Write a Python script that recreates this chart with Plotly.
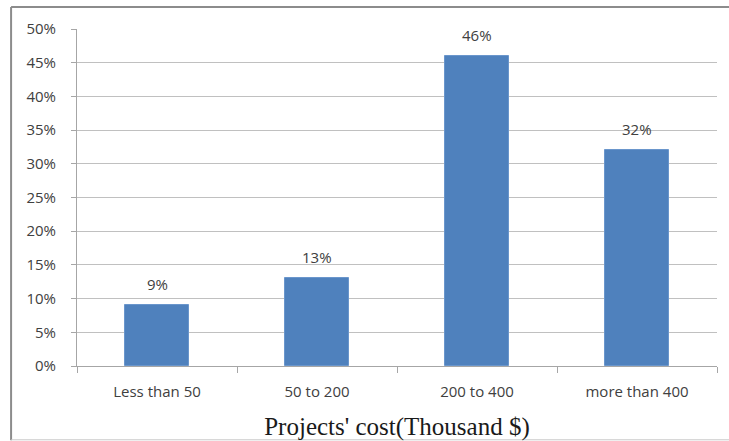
import plotly.graph_objects as go

# Share of projects by cost band
categories = ["Less than 50", "50 to 200", "200 to 400", "more than 400"]
shares = [9, 13, 46, 32]
y_ticks = [0, 5, 10, 15, 20, 25, 30, 35, 40, 45, 50]
y_tick_labels = [f"{v}%" for v in y_ticks]
boundaries = [-0.5, 0.5, 1.5, 2.5, 3.5]

label_font = dict(family="Open Sans", size=15, color="#404040")

fig = go.Figure(
    go.Bar(
        x=list(range(len(categories))),
        y=shares,
        width=0.4,
        marker=dict(color="#4F81BD", line=dict(color="#6A96CC", width=1)),
        hoverinfo="skip",
    )
)

# value labels above each bar
for i, v in enumerate(shares):
    fig.add_annotation(
        x=i, y=v, xref="x", yref="y",
        text=f"{v}%", showarrow=False,
        yanchor="middle", yshift=21,
        font=label_font,
    )

fig.update_layout(
    width=729,
    height=441,
    margin=dict(l=77, r=12, t=29, b=75),
    paper_bgcolor="white",
    plot_bgcolor="white",
    showlegend=False,
    bargap=0,
    shapes=[
        # frame around the whole chart
        dict(type="line", xref="paper", yref="paper",
             x0=-0.103, x1=1.03, y0=1.065, y1=1.065,
             line=dict(color="#8c8c8c", width=2)),
        dict(type="line", xref="paper", yref="paper",
             x0=-0.103, x1=-0.103, y0=1.065, y1=-0.22,
             line=dict(color="#8c8c8c", width=2)),
        dict(type="line", xref="paper", yref="paper",
             x0=-0.103, x1=1.03, y0=-0.219, y1=-0.219,
             line=dict(color="#c8c8c8", width=1)),
    ],
)

fig.update_xaxes(
    range=[-0.5, len(categories) - 0.5],
    tickmode="array",
    tickvals=list(range(len(categories))),
    ticktext=categories,
    ticks="outside",
    ticklen=12,
    tickcolor="rgba(0,0,0,0)",
    showline=True,
    linecolor="#a6a6a6",
    linewidth=1,
    showgrid=False,
    zeroline=False,
    automargin=False,
    tickfont=label_font,
    title=dict(
        text="Projects' cost(Thousand $)",
        font=dict(family="Liberation Serif", size=25, color="#1a1a1a"),
        standoff=17,
    ),
)

# second x axis carrying the category-boundary tick marks
fig.update_layout(
    xaxis2=dict(
        overlaying="x",
        side="bottom",
        anchor="y",
        range=[-0.5, len(categories) - 0.5],
        tickmode="array",
        tickvals=boundaries,
        ticks="outside",
        ticklen=6,
        tickcolor="#a6a6a6",
        showticklabels=False,
        showgrid=False,
        zeroline=False,
        showline=False,
        automargin=False,
    )
)
fig.add_trace(
    go.Scatter(x=boundaries, y=[0] * 5, xaxis="x2", mode="markers",
               marker=dict(opacity=0), hoverinfo="skip")
)

fig.update_yaxes(
    range=[0, 50],
    tickmode="array",
    tickvals=y_ticks,
    ticktext=y_tick_labels,
    ticks="outside",
    ticklen=5,
    tickcolor="#a6a6a6",
    showline=True,
    linecolor="#a6a6a6",
    linewidth=1,
    showgrid=True,
    gridcolor="#c0c0c0",
    gridwidth=1,
    zeroline=False,
    automargin=False,
    tickfont=label_font,
    ticklabelstandoff=12,
)

fig.write_html("out.html")
